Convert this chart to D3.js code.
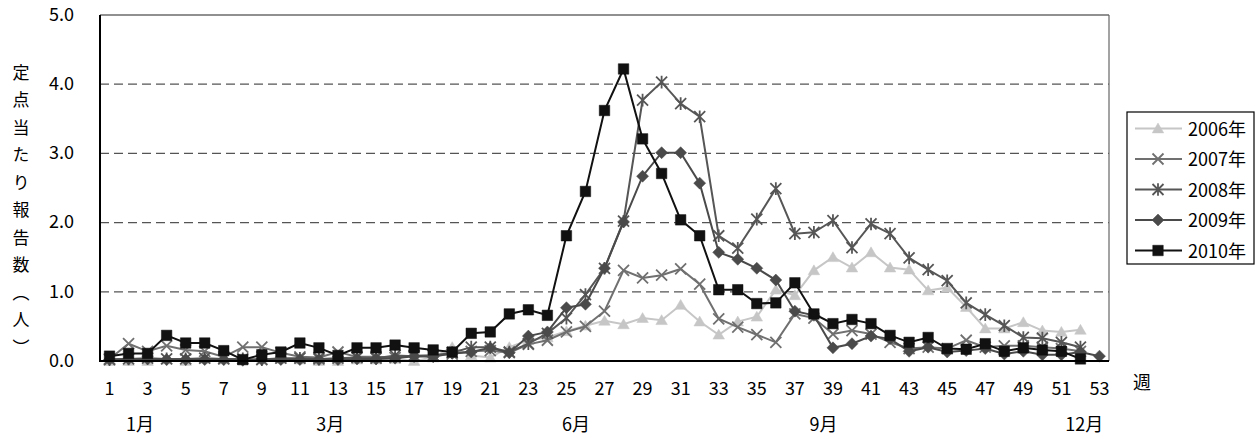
<!DOCTYPE html>
<html>
<head>
<meta charset="utf-8">
<script src="https://cdn.jsdelivr.net/npm/d3@7"></script>
<style>
  html, body { margin: 0; padding: 0; background: #fff; }
  svg { display: block; }
  text { font-family: "Noto Sans CJK JP", "Noto Sans", sans-serif; fill: #000; }
</style>
</head>
<body>
<svg id="chart" width="1260" height="439"></svg>
<script>
// ---- data ----
const weeks = d3.range(1, 54);
const weekTickLabels = d3.range(1, 54, 2);
const yTickValues = [0, 1, 2, 3, 4, 5];
const monthLabels = ["1月", "3月", "6月", "9月", "12月"];
const monthWeekPos = [2.6, 12.6, 25.5, 38.5, 52.2];
const seriesNames = ["2006年", "2007年", "2008年", "2009年", "2010年"];

const v2006 = [0.00,0.00,0.00,0.02,0.00,0.03,0.02,0.03,0.02,0.03,0.02,0.00,0.00,0.02,0.02,0.03,0.00,0.05,0.20,0.08,
  0.05,0.20,0.30,0.34,0.43,0.51,0.58,0.53,0.62,0.59,0.81,0.57,0.38,0.57,0.64,1.03,0.95,1.31,1.50,1.35,
  1.57,1.35,1.32,1.02,1.06,0.78,0.47,0.47,0.56,0.44,0.42,0.45];
const v2007 = [0.03,0.25,0.14,0.22,0.16,0.14,0.06,0.20,0.20,0.12,0.06,0.05,0.13,0.06,0.06,0.05,0.08,0.08,0.10,0.14,
  0.15,0.12,0.24,0.30,0.42,0.50,0.72,1.31,1.20,1.24,1.33,1.11,0.61,0.49,0.38,0.27,0.68,0.62,0.39,0.44,
  0.39,0.27,0.18,0.20,0.18,0.30,0.20,0.22,0.22,0.20,0.18,0.14];
const v2008 = [0.02,0.03,0.04,0.03,0.03,0.04,0.03,0.03,0.02,0.04,0.04,0.03,0.04,0.05,0.04,0.08,0.07,0.08,0.12,0.20,
  0.20,0.13,0.25,0.40,0.62,0.96,1.34,2.02,3.77,4.03,3.72,3.53,1.81,1.63,2.05,2.49,1.84,1.86,2.03,1.64,
  1.98,1.84,1.49,1.32,1.16,0.84,0.67,0.51,0.34,0.33,0.27,0.20];
const v2009 = [0.02,0.03,0.03,0.02,0.02,0.02,0.02,0.01,0.02,0.02,0.02,0.02,0.02,0.03,0.03,0.04,0.07,0.06,0.11,0.13,
  0.19,0.12,0.36,0.42,0.77,0.82,1.34,2.01,2.67,3.01,3.01,2.57,1.57,1.47,1.34,1.17,0.72,0.66,0.19,0.25,
  0.36,0.32,0.14,0.20,0.13,0.15,0.18,0.10,0.14,0.09,0.09,0.13,0.07];
const v2010 = [0.07,0.11,0.11,0.37,0.26,0.26,0.15,0.02,0.09,0.13,0.26,0.19,0.08,0.19,0.19,0.23,0.19,0.16,0.13,0.40,
  0.42,0.68,0.74,0.66,1.81,2.45,3.62,4.22,3.21,2.71,2.04,1.81,1.03,1.03,0.83,0.84,1.13,0.68,0.54,0.60,
  0.54,0.37,0.27,0.34,0.18,0.17,0.25,0.14,0.19,0.16,0.14,0.03];

const seriesValues = [v2006, v2007, v2008, v2009, v2010];

// ---- styles ----
const colors = ["#c6c6c6", "#707070", "#565656", "#4a4a4a", "#111111"];
const markerKinds = ["triangle", "x", "asterisk", "diamond", "square"];

const svg = d3.select("#chart");
svg.append("rect").attr("width", 1260).attr("height", 439).attr("fill", "#fff");

const x = d3.scaleLinear().domain([0.5, 53.5]).range([100, 1109]);
const y = d3.scaleLinear().domain([0, 5]).range([361, 15]);

// grid lines
svg.append("g").selectAll("line").data([1, 2, 3, 4]).join("line")
  .attr("x1", x(0.5)).attr("x2", x(53.5))
  .attr("y1", d => y(d)).attr("y2", d => y(d))
  .attr("stroke", "#555").attr("stroke-width", 1.2)
  .attr("stroke-dasharray", "9,5");

// frame top/right
svg.append("line").attr("x1", x(0.5)).attr("x2", x(53.5)).attr("y1", y(5)).attr("y2", y(5))
  .attr("stroke", "#222").attr("stroke-width", 1.2);
svg.append("line").attr("x1", x(53.5)).attr("x2", x(53.5)).attr("y1", y(5)).attr("y2", y(0))
  .attr("stroke", "#666").attr("stroke-width", 1.2);

// y axis labels
svg.append("g").selectAll("text").data(yTickValues).join("text")
  .attr("x", 74).attr("y", d => y(d) + 1)
  .attr("text-anchor", "end").attr("dominant-baseline", "middle")
  .attr("font-size", 18)
  .text(d => d3.format(".1f")(d));

// week labels
svg.append("g").selectAll("text").data(weekTickLabels).join("text")
  .attr("x", d => x(d)).attr("y", 395)
  .attr("text-anchor", "middle").attr("font-size", 18)
  .text(d => d);

// month labels
svg.append("g").selectAll("text").data(monthLabels).join("text")
  .attr("x", (d, i) => x(monthWeekPos[i])).attr("y", 431)
  .attr("text-anchor", "middle").attr("font-size", 18)
  .text(d => d);

// 週
svg.append("text").attr("x", 1142).attr("y", 389).attr("text-anchor", "middle")
  .attr("font-size", 18).text("週");

// y title (vertical)
svg.append("text")
  .attr("x", 21).attr("y", 64)
  .attr("font-size", 17)
  .style("writing-mode", "vertical-rl")
  .style("letter-spacing", "10.5px")
  .text("定点当たり報告数（人）");

// marker paths
function markerPath(kind, s) {
  const h = s / 2;
  switch (kind) {
    case "triangle": return `M0,${-h}L${h * 1.05},${h * 0.8}L${-h * 1.05},${h * 0.8}Z`;
    case "square": return `M${-h},${-h}H${h}V${h}H${-h}Z`;
    case "diamond": return `M0,${-h}L${h},0L0,${h}L${-h},0Z`;
    case "x": return `M${-h},${-h}L${h},${h}M${h},${-h}L${-h},${h}`;
    case "asterisk": return `M${-h},${-h}L${h},${h}M${h},${-h}L${-h},${h}M0,${-h * 1.15}V${h * 1.15}`;
  }
}
const markerSize = { triangle: 11, square: 10.5, diamond: 12, x: 11, asterisk: 11 };

const line = d3.line().x(d => x(d.w)).y(d => y(d.v));

seriesValues.forEach((vals, i) => {
  const pts = vals.map((v, k) => ({ w: weeks[k], v }));
  const g = svg.append("g");
  g.append("path").datum(pts).attr("d", line)
    .attr("fill", "none").attr("stroke", colors[i]).attr("stroke-width", 2);
  const kind = markerKinds[i];
  const filled = !(kind === "x" || kind === "asterisk");
  g.selectAll("path.m").data(pts).join("path").attr("class", "m")
    .attr("transform", d => `translate(${x(d.w)},${y(d.v)})`)
    .attr("d", markerPath(kind, markerSize[kind]))
    .attr("fill", filled ? colors[i] : "none")
    .attr("stroke", colors[i])
    .attr("stroke-width", filled ? 0.5 : 1.8);
});

// axes (left & bottom, thick)
svg.append("line").attr("x1", x(0.5)).attr("x2", x(0.5)).attr("y1", y(5)).attr("y2", y(0) + 1)
  .attr("stroke", "#000").attr("stroke-width", 2);
svg.append("line").attr("x1", x(0.5)).attr("x2", x(53.5)).attr("y1", y(0)).attr("y2", y(0))
  .attr("stroke", "#000").attr("stroke-width", 2);

// legend
const lg = svg.append("g");
lg.append("rect").attr("x", 1127).attr("y", 112).attr("width", 127).attr("height", 152)
  .attr("fill", "#fff").attr("stroke", "#000").attr("stroke-width", 1.2);
seriesNames.forEach((name, i) => {
  const ly = 128.5 + i * 30.5;
  const kind = markerKinds[i];
  const filled = !(kind === "x" || kind === "asterisk");
  lg.append("line").attr("x1", 1135).attr("x2", 1182).attr("y1", ly).attr("y2", ly)
    .attr("stroke", colors[i]).attr("stroke-width", 2);
  lg.append("path").attr("transform", `translate(1158,${ly})`)
    .attr("d", markerPath(kind, markerSize[kind]))
    .attr("fill", filled ? colors[i] : "none").attr("stroke", colors[i])
    .attr("stroke-width", filled ? 0.5 : 1.8);
  lg.append("text").attr("x", 1188).attr("y", ly + 7).attr("font-size", 18).text(name);
});
</script>
</body>
</html>
